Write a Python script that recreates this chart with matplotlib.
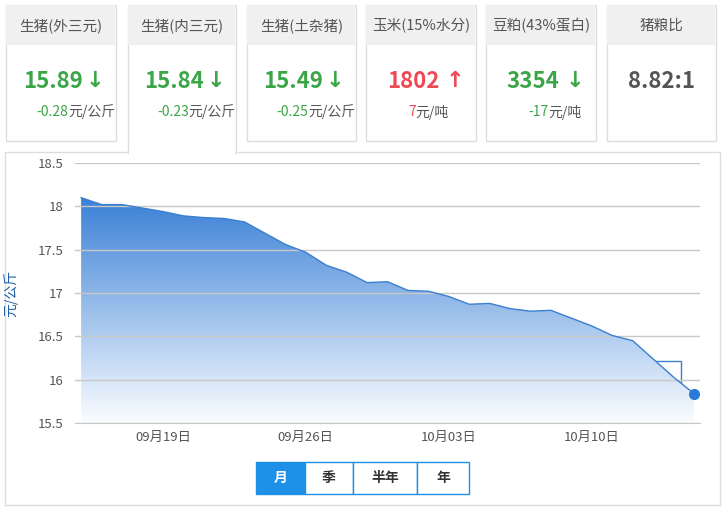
import matplotlib
matplotlib.use("Agg")
import matplotlib.pyplot as plt
import matplotlib.dates as mdates
from matplotlib.patches import Rectangle, Polygon
import numpy as np
import pandas as pd

plt.rcParams['font.family'] = ['Noto Sans CJK SC', 'DejaVu Sans']

dates = pd.date_range("2016-09-15", "2016-10-15", freq="D")
prices = [18.10, 18.02, 18.02, 17.98, 17.94, 17.89, 17.87, 17.86, 17.82, 17.69,
          17.56, 17.47, 17.32, 17.24, 17.12, 17.13, 17.03, 17.02, 16.96, 16.87,
          16.88, 16.82, 16.79, 16.80, 16.71, 16.62, 16.51, 16.45, 16.24, 16.03, 15.84]
card_titles = ["生猪(外三元)", "生猪(内三元)", "生猪(土杂猪)", "玉米(15%水分)", "豆粕(43%蛋白)", "猪粮比"]
card_values = ["15.89", "15.84", "15.49", "1802", "3354", "8.82:1"]
card_changes = ["-0.28", "-0.23", "-0.25", "7", "-17", ""]
card_units = ["元/公斤", "元/公斤", "元/公斤", "元/吨", "元/吨", ""]
card_dirs = ["down", "down", "down", "up", "down", ""]
buttons = ["月", "季", "半年", "年"]

W, H = 725, 511
fig = plt.figure(figsize=(W/100, H/100), dpi=100)
ov = fig.add_axes([0, 0, 1, 1])
ov.set_xlim(0, W); ov.set_ylim(H, 0); ov.axis("off")

GREEN = "#3aa648"; RED = "#ee4a55"; GRAY = "#dddddd"
# chart panel
ov.add_patch(Rectangle((5, 152), 715, 353, fill=False, ec=GRAY, lw=1))
cards_x = [(6, 116), (128, 236), (247, 356), (366, 476), (486, 596), (607, 716)]
for i, (x0, x1) in enumerate(cards_x):
    sel = i == 1
    bottom = 153 if sel else 141
    ov.add_patch(Rectangle((x0, 5), x1-x0, bottom-5, fc="white", ec=GRAY, lw=1, zorder=2))
    if sel:
        ov.add_patch(Rectangle((x0+1, 150), x1-x0-2, 5, fc="white", ec="none", zorder=3))
    ov.add_patch(Rectangle((x0+0.5, 5.5), x1-x0-1, 40, fc="#f0f0f0", ec="none", zorder=3))
    cx = (x0+x1)/2
    ov.text(cx, 26, card_titles[i], ha="center", va="center", fontsize=10.5, color="#555555", zorder=4)
    col = GREEN if card_dirs[i] == "down" else (RED if card_dirs[i] == "up" else "#555555")
    if card_dirs[i]:
        ov.text(cx-8, 81, card_values[i], ha="center", va="center", fontsize=16, fontweight="bold", color=col, zorder=4)
        ov.text(cx+34, 81, "↓" if card_dirs[i] == "down" else "↑", ha="center", va="center",
                fontsize=16, fontweight="bold", color=col, family="DejaVu Sans", zorder=4)
        ov.text(cx, 112, card_changes[i], ha="right", va="center", fontsize=10, color=col, zorder=4,
                transform=ov.transData) if False else None
        t = ov.text(cx-25 + (12 if len(card_changes[i]) <= 3 else 0), 112, card_changes[i], ha="left", va="center",
                    fontsize=10, color=col, zorder=4)
        ov.annotate(card_units[i], xycoords=t, xy=(1, 0.5), va="center", ha="left",
                    fontsize=10, color="#555555", zorder=4)
    else:
        ov.text(cx, 81, card_values[i], ha="center", va="center", fontsize=16, fontweight="bold", color="#555555", zorder=4)

# buttons
bx = [256, 305, 353, 417, 469]
for i, b in enumerate(buttons):
    sel = i == 0
    ov.add_patch(Rectangle((bx[i], 462), bx[i+1]-bx[i], 32, fc="#1e90e8" if sel else "white",
                           ec="#1e90e8", lw=1))
    ov.text((bx[i]+bx[i+1])/2, 478, b, ha="center", va="center", fontsize=10,
            fontweight="bold", color="white" if sel else "#333333")

# chart axes
ax = fig.add_axes([75/W, 1-423/H, (700-75)/W, (423-163)/H])
ax.patch.set_alpha(0)
x = mdates.date2num(dates)
ax.set_xlim(x[0]-0.3, x[-1]+0.3)
ax.set_ylim(15.5, 18.5)
ax.set_yticks(np.arange(15.5, 18.6, 0.5))
ax.set_yticklabels(["15.5", "16", "16.5", "17", "17.5", "18", "18.5"])
ax.grid(axis="y", color="#c8c8c8", lw=1)
for s in ["top", "right", "left"]:
    ax.spines[s].set_visible(False)
ax.spines["bottom"].set_color("#c8c8c8")
ax.tick_params(axis="y", length=0, labelsize=9.5, colors="#555555", pad=8)
ax.tick_params(axis="x", length=0, labelsize=9.5, colors="#555555", pad=6)
ticks = mdates.date2num(pd.to_datetime(["2016-09-19", "2016-09-26", "2016-10-03", "2016-10-10"]))
ax.set_xticks(ticks)
ax.set_xticklabels(["09月19日", "09月26日", "10月03日", "10月10日"])
ax.set_ylabel("元/公斤", fontsize=10, color="#1f5fa8", labelpad=14)
grad = np.linspace(1, 0, 256).reshape(-1, 1)
from matplotlib.colors import LinearSegmentedColormap
cmap = LinearSegmentedColormap.from_list("g", ["#fbfdff", "#3a80d6"])
im = ax.imshow(grad, cmap=cmap, aspect="auto", extent=[x[0], x[-1], 15.5, 18.1], origin="upper", zorder=1)
poly = Polygon(np.column_stack([np.r_[x, x[-1], x[0]], np.r_[prices, 15.5, 15.5]]), closed=True,
               fc="none", ec="none", transform=ax.transData)
ax.add_patch(poly)
im.set_clip_path(poly)
ax.plot(x, prices, color="#3a7fd0", lw=1, zorder=2)
ax.plot(x[-1], prices[-1], "o", ms=7, color="#2a78d8", zorder=3)
ax.set_xlim(x[0]-0.3, x[-1]+0.3)

# tooltip
ov.add_patch(Rectangle((551, 361), 130, 51, fc="white", ec="#3a7fd0", lw=1, zorder=5))
ov.text(559, 377, "2016-10-15", fontsize=9.5, color="#333333", va="center", zorder=6)
ov.text(559, 396, "内三元15.84元/公斤", fontsize=9.5, color="#333333", va="center", zorder=6)

fig.savefig("out.png", dpi=100)
